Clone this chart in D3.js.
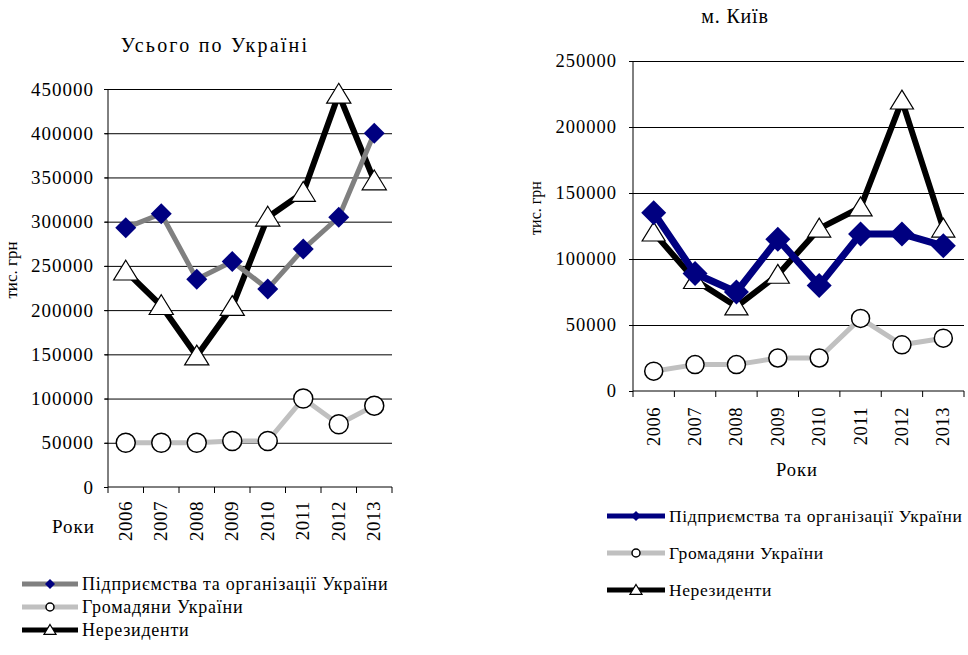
<!DOCTYPE html>
<html>
<head>
<meta charset="utf-8">
<script src="https://cdn.jsdelivr.net/npm/d3@7"></script>
<style>
  body { margin: 0; background: #fff; }
  svg, svg text { font-family: "Liberation Serif", "Times New Roman", serif; }
</style>
</head>
<body>
<div id="chart"></div>
<script>
// Data
var years = ["2006", "2007", "2008", "2009", "2010", "2011", "2012", "2013"]
var seriesNames = ["Підприємства та організації України", "Громадяни України", "Нерезиденти"]

var ukrEnterprises = [293000, 309000, 235000, 255000, 224000, 269000, 305000, 400000]
var ukrCitizens = [50000, 50000, 50000, 52000, 52000, 100000, 71000, 92000]
var ukrNonResidents = [244000, 205000, 148000, 204000, 305000, 333000, 444000, 346000]

var kyivEnterprises = [135000, 89000, 75000, 115000, 80000, 119000, 119000, 110000]
var kyivCitizens = [15000, 20000, 20000, 25000, 25000, 55000, 35000, 40000]
var kyivNonResidents = [120000, 84000, 64000, 88000, 123000, 139000, 220000, 123000]

var ukrTicks = [0, 50000, 100000, 150000, 200000, 250000, 300000, 350000, 400000, 450000]
var kyivTicks = [0, 50000, 100000, 150000, 200000, 250000]

var width = 968
var height = 655

var svg = d3.select("#chart")
  .append("svg")
  .attr("width", width)
  .attr("height", height)

svg.append("rect")
  .attr("width", width)
  .attr("height", height)
  .attr("fill", "#fff")

function diamond(r) {
  return `M0,${-r}L${r},0L0,${r}L${-r},0Z`
}
function triangle(r) {
  return `M0,${-r}L${r * 1.1},${r * 0.8}L${-r * 1.1},${r * 0.8}Z`
}

function drawChart(cfg) {
  var g = svg.append("g")

  // Add X scale
  var xScale = d3.scaleBand()
    .domain(years)
    .range([cfg.left, cfg.right])

  // Add Y scale
  var yScale = d3.scaleLinear()
    .domain([0, d3.max(cfg.ticks)])
    .range([cfg.bottom, cfg.top])

  // Render Y grid
  g.append("g")
    .attr("transform", `translate(${cfg.left},0)`)
    .call(d3.axisLeft(yScale)
      .tickValues(cfg.ticks.filter(d => d > 0))
      .tickSize(-(cfg.right - cfg.left) - 3)
      .tickFormat(""))
    .call(s => s.select(".domain").remove())
    .selectAll("line")
    .attr("transform", "translate(-3,0)")
    .style("stroke", "#000")

  // Render Y axis
  g.append("g")
    .attr("transform", `translate(${cfg.left},0)`)
    .call(d3.axisLeft(yScale)
      .tickValues(cfg.ticks)
      .tickSize(4)
      .tickPadding(cfg.tickPad)
      .tickSizeOuter(0)
      .tickFormat(d => d))
    .attr("font-family", null)
    .attr("font-size", null)
    .call(s => s.select(".domain").attr("d", `M0,${yScale(d3.max(cfg.ticks))}V${cfg.bottom}`).style("stroke", "#000"))
    .selectAll("text")
    .style("font-size", cfg.tickFont)
    .style("letter-spacing", "1px")
    .style("fill", "#000")

  // Render X axis
  var xAxisG = g.append("g")

  xAxisG.append("line")
    .attr("x1", cfg.left)
    .attr("x2", cfg.right)
    .attr("y1", cfg.bottom)
    .attr("y2", cfg.bottom)
    .style("stroke", "#000")

  var bounds = years.map(d => xScale(d)).concat([cfg.right])
  xAxisG.selectAll(".xtick")
    .data(bounds)
    .enter()
    .append("line")
    .attr("x1", d => d)
    .attr("x2", d => d)
    .attr("y1", cfg.bottom)
    .attr("y2", cfg.bottom + 6)
    .style("stroke", "#000")

  xAxisG.selectAll(".year")
    .data(years)
    .enter()
    .append("text")
    .attr("transform", d => `translate(${xScale(d) + xScale.bandwidth() / 2 + 6},${cfg.yearTop}) rotate(-90)`)
    .attr("text-anchor", "end")
    .style("font-size", cfg.tickFont)
    .style("letter-spacing", "0.5px")
    .text(d => d)

  // Titles and labels
  g.append("text")
    .attr("x", cfg.titleX)
    .attr("y", cfg.titleY)
    .attr("text-anchor", "middle")
    .style("font-size", "20px")
    .style("letter-spacing", cfg.titleSpacing)
    .text(cfg.title)

  g.append("text")
    .attr("transform", `translate(${cfg.ylabX},${cfg.ylabY}) rotate(-90)`)
    .attr("text-anchor", "middle")
    .style("font-size", cfg.ylabFont)
    .text("тис. грн")

  g.append("text")
    .attr("x", cfg.rokyX)
    .attr("y", cfg.rokyY)
    .attr("text-anchor", cfg.rokyAnchor)
    .style("font-size", cfg.tickFont)
    .style("letter-spacing", "1px")
    .text("Роки")

  // Render lines
  var line = d3.line()
    .x((d, i) => xScale(years[i]) + xScale.bandwidth() / 2)
    .y(d => yScale(d))

  var series = [
    { values: cfg.data[0], color: cfg.entLine, width: cfg.entWidth, marker: "diamond" },
    { values: cfg.data[1], color: "#c0c0c0", width: 5, marker: "circle" },
    { values: cfg.data[2], color: "#000", width: cfg.blackWidth, marker: "triangle" }
  ]

  cfg.order.forEach(function(k) {
    var s = series[k]
    g.append("path")
      .datum(s.values)
      .attr("d", line)
      .style("fill", "none")
      .style("stroke", s.color)
      .style("stroke-width", s.width)
      .style("stroke-linejoin", "round")

    var pts = g.selectAll(".pt" + k)
      .data(s.values)
      .enter()
      .append("g")
      .attr("transform", (d, i) => `translate(${xScale(years[i]) + xScale.bandwidth() / 2},${yScale(d)})`)

    if (s.marker === "diamond") {
      pts.append("path").attr("d", diamond(cfg.diamondR)).style("fill", "#000080")
    } else if (s.marker === "circle") {
      pts.append("circle").attr("r", cfg.circleR).style("fill", "#fff").style("stroke", "#000").style("stroke-width", 1.5)
    } else {
      pts.append("path").attr("d", triangle(cfg.triR)).style("fill", "#fff").style("stroke", "#000").style("stroke-width", 1.2)
    }
  })

  // Legend
  var legend = g.selectAll(".legend")
    .data(seriesNames)
    .enter()
    .append("g")
    .attr("transform", (d, i) => `translate(${cfg.legX},${cfg.legY + i * cfg.legStep})`)

  legend.append("line")
    .attr("x1", 0)
    .attr("x2", cfg.legLine)
    .style("stroke", (d, i) => series[i].color)
    .style("stroke-width", 5)

  legend.each(function(d, i) {
    var c = d3.select(this).append("g").attr("transform", `translate(${cfg.legLine / 2},0)`)
    if (i === 0) c.append("path").attr("d", diamond(5)).style("fill", "#000080")
    else if (i === 1) c.append("circle").attr("r", 4).style("fill", "#fff").style("stroke", "#000").style("stroke-width", 1.5)
    else c.append("path").attr("d", triangle(5.5)).style("fill", "#fff").style("stroke", "#000").style("stroke-width", 1.2)
  })

  legend.append("text")
    .attr("x", cfg.legLine + 4)
    .attr("y", 6)
    .style("font-size", cfg.legFont)
    .style("letter-spacing", cfg.legSpacing)
    .text(d => d)
}

drawChart({
  data: [ukrEnterprises, ukrCitizens, ukrNonResidents],
  ticks: ukrTicks,
  left: 108, right: 392, top: 89, bottom: 487,
  tickFont: "19px", tickPad: 10,
  yearTop: 501,
  title: "Усього по Україні", titleX: 215, titleY: 52, titleSpacing: "2.2px",
  ylabX: 17, ylabY: 270, ylabFont: "17px",
  rokyX: 52, rokyY: 533, rokyAnchor: "start",
  entLine: "#808080", entWidth: 5, blackWidth: 6,
  diamondR: 10.5, circleR: 9.5, triR: 11,
  order: [1, 2, 0],
  legX: 22, legY: 584, legStep: 23, legLine: 56, legFont: "18px", legSpacing: "0.75px"
})

drawChart({
  data: [kyivEnterprises, kyivCitizens, kyivNonResidents],
  ticks: kyivTicks,
  left: 633, right: 964, top: 61, bottom: 391,
  tickFont: "18.5px", tickPad: 12,
  yearTop: 407,
  title: "м. Київ", titleX: 735, titleY: 23, titleSpacing: "0.8px",
  ylabX: 541, ylabY: 208, ylabFont: "16px",
  rokyX: 797, rokyY: 476, rokyAnchor: "middle",
  entLine: "#000080", entWidth: 7, blackWidth: 6,
  diamondR: 12.5, circleR: 9, triR: 10.5,
  order: [1, 2, 0],
  legX: 607, legY: 516, legStep: 37, legLine: 58, legFont: "17.5px", legSpacing: "0.6px"
})
</script>
</body>
</html>
